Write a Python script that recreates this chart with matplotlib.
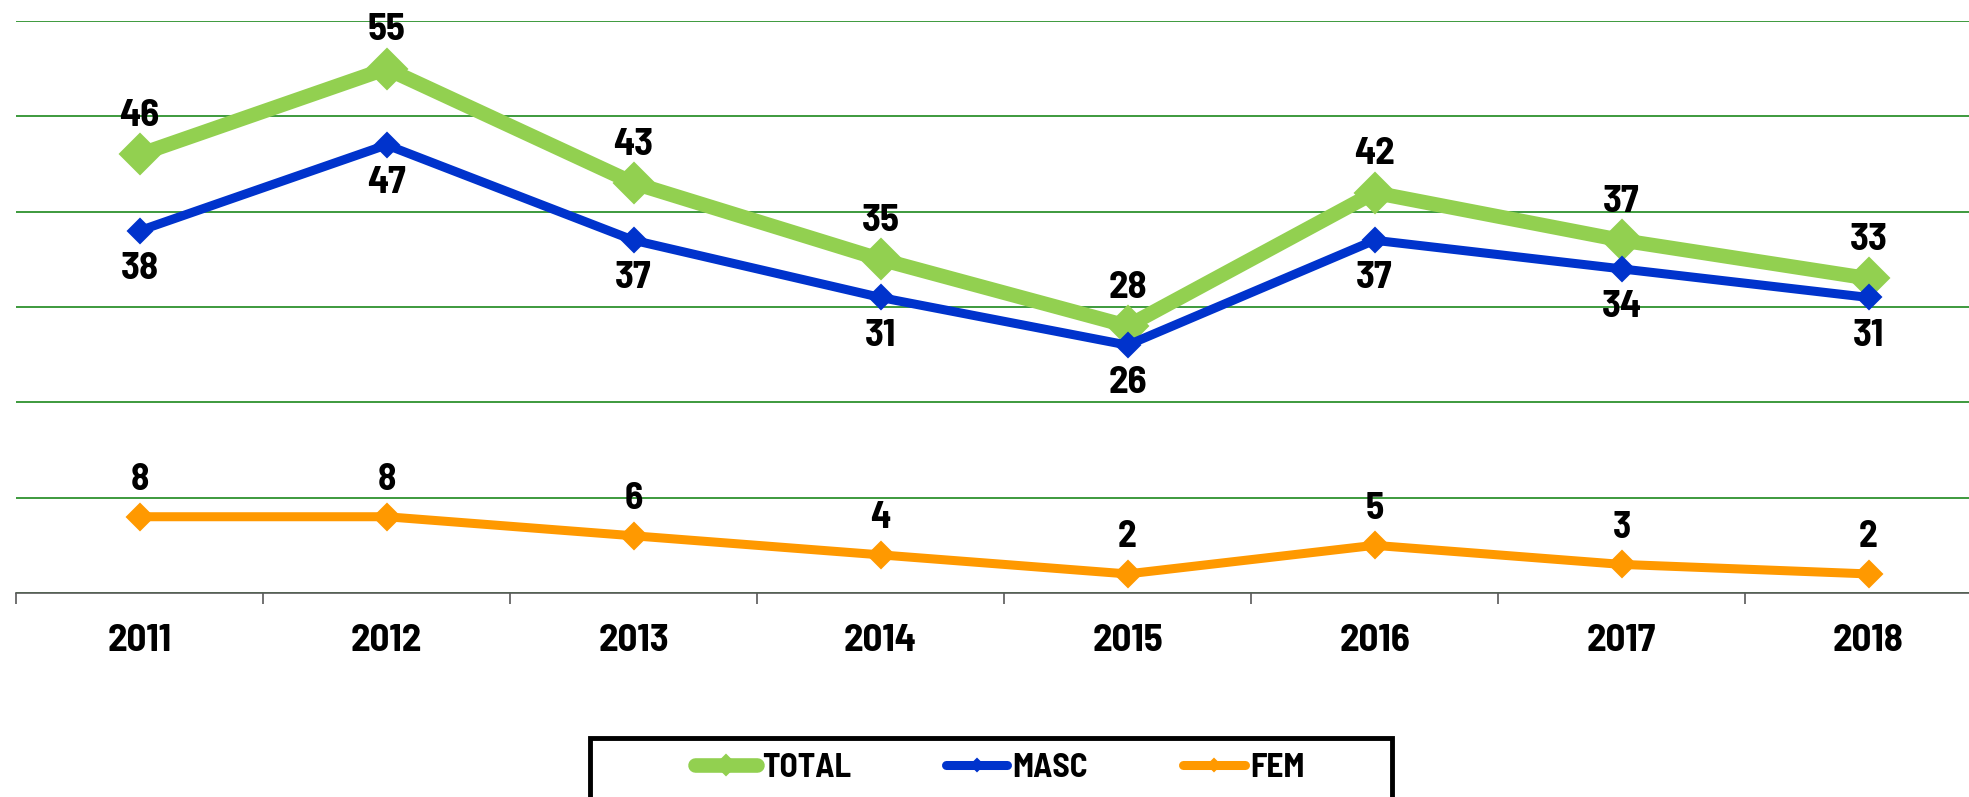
import matplotlib
matplotlib.use("Agg")
import matplotlib.pyplot as plt
from matplotlib.patches import Rectangle
import numpy as np

# Data
years = ['2011', '2012', '2013', '2014', '2015', '2016', '2017', '2018']
total = [46, 55, 43, 35, 28, 42, 37, 33]
masc = [38, 47, 37, 31, 26, 37, 34, 31]
fem = [8, 8, 6, 4, 2, 5, 3, 2]

# condensed bold face, close to the original's
plt.rcParams['font.family'] = ['Barlow Semi Condensed', 'Barlow Condensed', 'Fjalla One',
                               'IBM Plex Sans Condensed', 'DejaVu Sans']
plt.rcParams['font.weight'] = 'bold'

W, H = 1969, 797
fig = plt.figure(figsize=(W / 100, H / 100), dpi=100)

# plot area runs past the right edge of the picture (cropped like the source)
left, right = 16, 1992
top, bottom = 21, 593
ax = fig.add_axes([left / W, 1 - bottom / H, (right - left) / W, (bottom - top) / H])

x = np.arange(len(years))
c_total = '#92D050'
c_masc = '#0033CC'
c_fem = '#FF9900'

ax.plot(x, total, color=c_total, lw=10.5, marker='D', ms=20, mew=1.5,
        label='TOTAL', zorder=3)
ax.plot(x, masc, color=c_masc, lw=6.5, marker='D', ms=12, mew=1.5,
        label='MASC', zorder=4)
ax.plot(x, fem, color=c_fem, lw=6.5, marker='D', ms=13, mew=1.5,
        label='FEM', zorder=4)

# value labels
for xi, v in zip(x, total):
    ax.annotate(str(v), (xi, v), xytext=(0, 27.5), textcoords='offset points',
                ha='center', va='center', fontsize=28, fontweight='bold')
for xi, v in zip(x, masc):
    ax.annotate(str(v), (xi, v), xytext=(0, -27.5), textcoords='offset points',
                ha='center', va='center', fontsize=28, fontweight='bold')
for xi, v in zip(x, fem):
    ax.annotate(str(v), (xi, v), xytext=(0, 26.5), textcoords='offset points',
                ha='center', va='center', fontsize=27, fontweight='bold')

ax.set_xlim(-0.5, 7.5)
ax.set_ylim(0, 60)
ax.set_yticks(np.arange(0, 70, 10))
ax.yaxis.grid(True, color='#2E922E', lw=1.3)
ax.set_axisbelow(True)
ax.tick_params(axis='y', left=False, labelleft=False)

ax.set_xticks(x)
ax.set_xticklabels(years, fontsize=28, fontweight='bold')
ax.set_xticks(np.arange(-0.5, 8, 1), minor=True)
ax.tick_params(axis='x', which='major', length=0, pad=22)
ax.tick_params(axis='x', which='minor', length=8, width=1.2, color='#595959', direction='out')

for s in ['top', 'right', 'left']:
    ax.spines[s].set_visible(False)
ax.spines['bottom'].set_color('#595959')
ax.spines['bottom'].set_linewidth(1.2)

# legend box (cut off at the bottom like the source)
fig.patches.append(Rectangle((590 / W, -0.05), (1392 - 590) / W, (H - 738) / H + 0.05,
                             transform=fig.transFigure, fill=False,
                             edgecolor='black', lw=3.5))
leg = fig.legend(loc='center left', bbox_to_anchor=(695 / W, 1 - 768 / H),
                 ncol=3, frameon=False, prop={'size': 24, 'weight': 'bold'},
                 handlelength=1.85, handletextpad=0.15, columnspacing=2.85,
                 borderpad=0, borderaxespad=0, markerscale=0.5)
for line in leg.get_lines():
    line.set_solid_capstyle('round')

fig.savefig('out.png', dpi=100)
